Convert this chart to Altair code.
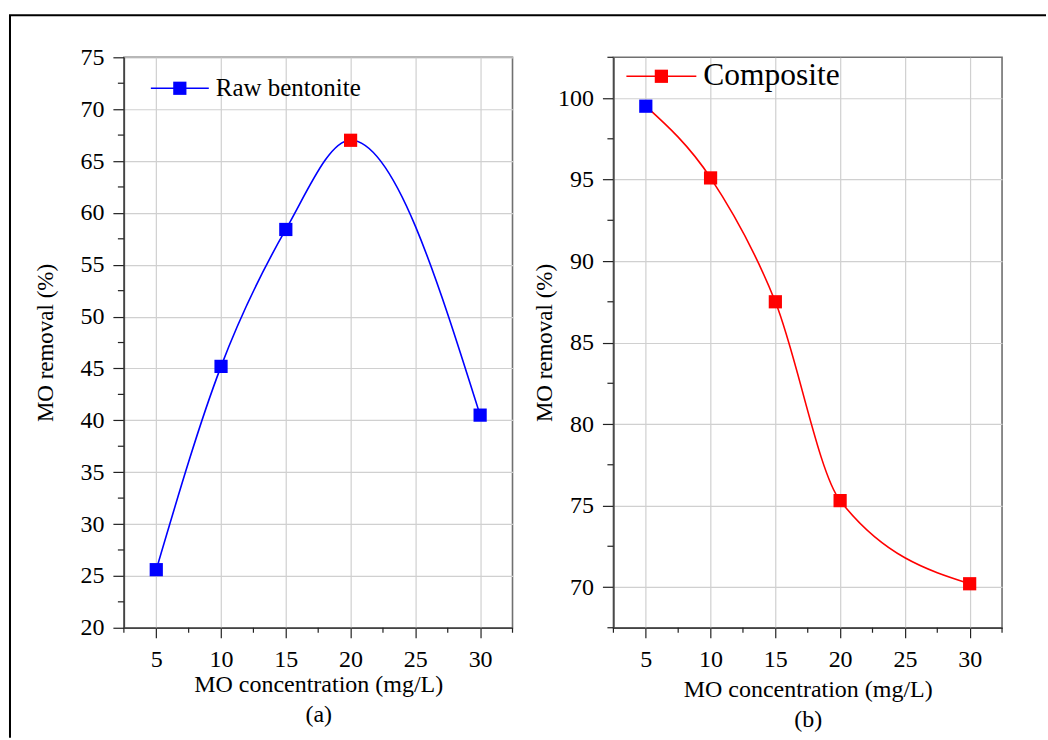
import altair as alt
import pandas as pd

# ---------------- data ----------------
conc = [5, 10, 15, 20, 30]
raw_removal = [25.6, 45.2, 58.4, 67.0, 40.5]
comp_removal = [99.5, 95.1, 87.5, 75.3, 70.2]

x_ticks = [5, 10, 15, 20, 25, 30]
x_minor = [2.5, 7.5, 12.5, 17.5, 22.5, 27.5, 32.5]
raw_y_ticks = [20, 25, 30, 35, 40, 45, 50, 55, 60, 65, 70, 75]
raw_y_minor = [22.5, 27.5, 32.5, 37.5, 42.5, 47.5, 52.5, 57.5, 62.5, 67.5, 72.5]
comp_y_ticks = [70, 75, 80, 85, 90, 95, 100]
comp_y_minor = [67.5, 72.5, 77.5, 82.5, 87.5, 92.5, 97.5, 102.5]

FONT = "Liberation Serif"
W, H = 389, 571
BLUE = "#0000ff"
RED = "#ff0000"


def panel(values, label, ydomain, yticks, yminor, line_color, hl_x, hl_color,
          base_color, sub, leg, xtitle_pad, ytitle_pad, frame):
    df = pd.DataFrame({"conc": conc, "removal": values})
    xs = alt.Scale(domain=[2.5, 32.5], nice=False, zero=False)
    ys = alt.Scale(domain=ydomain, nice=False, zero=False)

    xaxis = alt.Axis(values=x_ticks, format="d", tickSize=10, tickColor="#222",
                     tickWidth=1.2, domainColor="#444", domainWidth=1.5,
                     labelFont=FONT, labelFontSize=24, labelColor="black",
                     labelPadding=10, title=["MO concentration (mg/L)", sub],
                     titleFont=FONT, titleFontSize=24, titleFontWeight="normal",
                     titleColor="black", titlePadding=xtitle_pad, titleLineHeight=30,
                     grid=True, gridColor="#d0d0d0", gridWidth=1.2)
    yaxis = alt.Axis(values=yticks, format="d", tickSize=11, tickColor="#222",
                     tickWidth=1.2, domainColor="#444", domainWidth=1.5,
                     labelFont=FONT, labelFontSize=24, labelColor="black",
                     labelPadding=9, title="MO removal (%)",
                     titleFont=FONT, titleFontSize=23, titleFontWeight="normal",
                     titleColor="black", titlePadding=ytitle_pad,
                     grid=True, gridColor="#d0d0d0", gridWidth=1.2)

    base = alt.Chart(df)
    line = base.mark_line(interpolate="monotone", strokeWidth=1.6, color=line_color).encode(
        x=alt.X("conc:Q", scale=xs, axis=xaxis),
        y=alt.Y("removal:Q", scale=ys, axis=yaxis),
    )
    pts = base.mark_square(size=175, opacity=1, strokeWidth=0).encode(
        x=alt.X("conc:Q", scale=xs),
        y=alt.Y("removal:Q", scale=ys),
        color=alt.condition(alt.datum.conc == hl_x, alt.value(hl_color), alt.value(base_color)),
    )

    ymin = alt.Chart(pd.DataFrame({"removal": yminor})).mark_rule(color="#222", strokeWidth=1.2).encode(
        y=alt.Y("removal:Q", scale=ys), x=alt.value(0), x2=alt.value(-6))
    xmin = alt.Chart(pd.DataFrame({"conc": x_minor})).mark_rule(color="#222", strokeWidth=1.2).encode(
        x=alt.X("conc:Q", scale=xs), y=alt.value(H), y2=alt.value(H + 5))

    lx1, lx2, sqx, ly, tx, fs = leg
    leg_df = alt.Data(values=[{"series": label}])
    leg_line = alt.Chart(leg_df).mark_rule(color=line_color, strokeWidth=1.6).encode(
        x=alt.value(lx1), x2=alt.value(lx2), y=alt.value(ly))
    leg_sq = alt.Chart(leg_df).mark_square(size=175, opacity=1, color=line_color).encode(
        x=alt.value(sqx), y=alt.value(ly))
    leg_txt = alt.Chart(leg_df).mark_text(align="left", baseline="middle", font=FONT,
                                          fontSize=fs, color="black").encode(
        x=alt.value(tx), y=alt.value(ly), text=alt.Text("series:N"))

    layers = [line, ymin, xmin, pts, leg_line, leg_sq, leg_txt]
    if frame:
        one = alt.Data(values=[{"k": 0}])
        top = alt.Chart(one).mark_rule(color="black", strokeWidth=2).encode(
            x=alt.value(-115), x2=alt.value(923), y=alt.value(-42))
        lf = alt.Chart(one).mark_rule(color="black", strokeWidth=2).encode(
            x=alt.value(-114), y=alt.value(-42), y2=alt.value(681))
        layers += [top, lf]
    return alt.layer(*layers).properties(width=W, height=H)


left = panel(raw_removal, "Raw bentonite", [20, 75], raw_y_ticks, raw_y_minor,
             BLUE, 20, RED, BLUE, "(a)", (27, 85, 56, 31, 92, 25), 1, 22, True)
right = panel(comp_removal, "Composite", [67.5, 102.5], comp_y_ticks, comp_y_minor,
              RED, 5, BLUE, RED, "(b)", (13, 83, 48, 19, 90, 31.5), 6, 1, False)

chart = alt.hconcat(left, right, spacing=101, bounds="flush").properties(
    padding={"left": 7, "top": 13, "right": 0, "bottom": 0}
).configure(background="white").configure_view(stroke="#707070", strokeWidth=1.6)

chart.save("out.html", embed_options={"renderer": "svg", "actions": False})
